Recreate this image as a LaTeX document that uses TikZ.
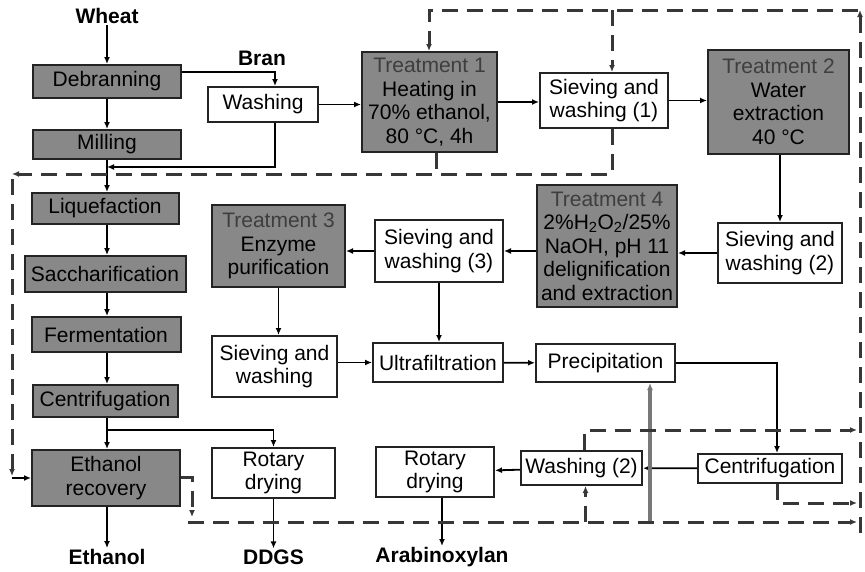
\documentclass[tikz,border=0pt]{standalone}
\usepackage{fontspec}
\setmainfont{Liberation Sans}
\usetikzlibrary{arrows.meta}
\definecolor{boxgray}{RGB}{136,136,136}
\definecolor{boxline}{RGB}{35,35,35}
\definecolor{dashgray}{RGB}{55,55,55}
\definecolor{tgray}{RGB}{62,62,62}
\definecolor{feedgray}{RGB}{120,120,120}
\newcommand{\treat}[1]{\textcolor{tgray}{#1}}
\tikzset{
  gbox/.style={draw=boxline, line width=2pt, fill=boxgray, align=center,
    inner sep=1pt, font=\fontsize{21}{23.5}\selectfont},
  wbox/.style={gbox, fill=white},
  tag/.style={font=\bfseries\fontsize{21}{23.5}\selectfont, inner sep=1pt},
  tip/.style={-{Latex[length=7pt,width=6pt]}},
  flow/.style={line width=1.8pt, tip},
  recyc/.style={line width=3pt, draw=dashgray, dash pattern=on 16pt off 9pt},
  feed/.style={line width=4pt, draw=feedgray, tip}
}
\begin{document}
\begin{tikzpicture}[x=1pt,y=-1pt]
\useasboundingbox (0,0) rectangle (865,571);
% ethanol line
\node[tag] (wheat) at (107,16) {Wheat};
\node[gbox, minimum width=148pt, minimum height=33pt] (deb) at (107,81.5) {Debranning};
\node[gbox, minimum width=148pt, minimum height=29pt] (mill) at (107,144.5) {Milling};
\node[gbox, minimum width=147pt, minimum height=31pt] (liq) at (105,208.5) {Liquefaction};
\node[gbox, minimum width=161pt, minimum height=36pt] (sacc) at (105,274) {Saccharification};
\node[gbox, minimum width=149pt, minimum height=35pt] (ferm) at (106,334.5) {Fermentation};
\node[gbox, minimum width=145pt, minimum height=32pt] (cent) at (105,401) {Centrifugation};
\node[gbox, minimum width=148pt, minimum height=56pt] (etrec) at (106,478) {Ethanol\\recovery};
\node[tag] (ethanol) at (107,557) {Ethanol};
\node[wbox, minimum width=123pt, minimum height=50pt] (rot1) at (273.5,473) {Rotary\\drying};
\node[tag] (ddgs) at (273.5,557) {DDGS};
% arabinoxylan line
\node[tag] (bran) at (262,58) {Bran};
\node[wbox, minimum width=110pt, minimum height=35pt] (wash) at (263,104.5) {Washing};
\node[gbox, minimum width=135pt, minimum height=100pt] (t1) at (429.5,102)
  {\treat{Treatment 1}\\Heating in\\70\% ethanol,\\80 °C, 4h};
\node[wbox, minimum width=128pt, minimum height=55pt] (sv1) at (604,100.5) {Sieving and\\washing (1)};
\node[gbox, minimum width=141pt, minimum height=104pt] (t2) at (778.5,102)
  {\treat{Treatment 2}\\Water\\extraction\\40 °C};
\node[wbox, minimum width=124pt, minimum height=60pt] (sv2) at (780,253) {Sieving and\\washing (2)};
\node[gbox, minimum width=140pt, minimum height=122pt] (t4) at (607,246)
  {\treat{Treatment 4}\\2\%H\textsubscript{2}O\textsubscript{2}/25\%\\NaOH, pH 11\\delignification\\and extraction};
\node[wbox, minimum width=128pt, minimum height=62pt] (sv3) at (439,251) {Sieving and\\washing (3)};
\node[gbox, minimum width=133pt, minimum height=82pt] (t3) at (278.5,246)
  {\treat{Treatment 3}\\Enzyme\\purification};
\node[wbox, minimum width=125pt, minimum height=61pt] (sv4) at (274.5,366.5) {Sieving and\\washing};
\node[wbox, minimum width=130pt, minimum height=39pt] (ultra) at (438,362.5) {Ultrafiltration};
\node[wbox, minimum width=139pt, minimum height=38pt] (prec) at (605.5,363) {Precipitation};
\node[wbox, minimum width=144pt, minimum height=29pt] (cent2) at (770,468.5) {Centrifugation};
\node[wbox, minimum width=121pt, minimum height=34pt] (wash2) at (581.5,468) {Washing (2)};
\node[wbox, minimum width=118pt, minimum height=50pt] (rot2) at (435,472) {Rotary\\drying};
\node[tag] (arab) at (442,557) {Arabinoxylan};
% solid connectors
\draw[flow] (wheat) -- (deb);
\draw[flow] (deb) -- (mill);
\draw[flow] (mill.south -| wheat) -- (liq.north -| wheat);
\draw[flow] (liq.south -| wheat) -- (sacc.north -| wheat);
\draw[flow] (sacc.south -| wheat) -- (ferm.north -| wheat);
\draw[flow] (ferm.south -| wheat) -- (cent.north -| wheat);
\draw[flow] (cent.south -| wheat) -- (etrec.north -| wheat);
\draw[flow] (etrec.south -| wheat) -- (ethanol);
\coordinate (cb) at (107,430);
\draw[flow] (cb) -| (rot1);
\draw[flow] (rot1) -- (ddgs);
\draw[flow] ([yshift=9.5pt]deb.east) -| ([xshift=12pt]wash.north);
\coordinate (wj) at (107,167);
\draw[flow] ([xshift=12pt]wash.south) |- (wj);
\draw[flow] (wash) -- (wash -| t1.west);
\draw[flow] (t1) -- (t1 -| sv1.west);
\draw[flow] (sv1) -- (sv1 -| t2.west);
\draw[flow] (t2.south -| sv2) -- (sv2);
\draw[flow] (sv2) -- (sv2 -| t4.east);
\draw[flow] (sv3 -| t4.west) -- (sv3);
\draw[flow] (sv3) -- (sv3 -| t3.east);
\draw[flow] (t3) -- (t3 |- sv4.north);
\draw[flow] (ultra -| sv4.east) -- (ultra);
\draw[flow] (sv3) -- (sv3 |- ultra.north);
\draw[flow] (ultra) -- (prec);
\draw[flow] (prec) -| ([xshift=7pt]cent2.north);
\draw[flow] (cent2) -- (wash2);
\draw[flow] (wash2) -- (rot2);
\draw[flow] (rot2.south -| arab) -- (arab);
\coordinate (pj) at (650,522);
\draw[feed] (pj) -- (pj |- prec.south);
% recycled solvent (dashed)
\coordinate (tr) at (860,10);
\coordinate (tl) at (429,10);
\coordinate (br) at (860,533);
\draw[recyc, tip] (br) -- (tr);
\draw[recyc, tip] ([xshift=-2pt]tr) -- (tl) -- (tl |- t1.north);
\draw[recyc, tip] ([xshift=8pt]sv1.north |- tr) -- ([xshift=8pt]sv1.north);
\coordinate (lt) at (12,174);
\draw[recyc, tip] ([xshift=8pt]sv1.south) |- (lt);
\draw[recyc] ([xshift=7pt]t1.south) -- ([xshift=7pt]t1.south |- lt);
\coordinate (lb) at (12,478);
\draw[recyc, tip] ([yshift=-5pt]lt) -- ([yshift=2pt]lb);
\draw[flow] (lb) -- (etrec);
\coordinate (ed) at (192,517);
\coordinate (bl) at (188,522);
\draw[recyc, tip] ([yshift=1pt]etrec.east) -| (ed);
\draw[recyc, tip] (bl) -- ([xshift=-3pt]br |- bl);
\coordinate (mr) at (857,430);
\draw[recyc, tip] ([xshift=3pt]wash2.north) |- (mr);
\draw[recyc, tip] ([xshift=4pt]wash2.south |- bl) -- ([xshift=4pt]wash2.south);
\coordinate (lr) at (857,503);
\draw[recyc, tip] ([xshift=7pt]cent2.south) |- (lr);
\end{tikzpicture}
\end{document}
